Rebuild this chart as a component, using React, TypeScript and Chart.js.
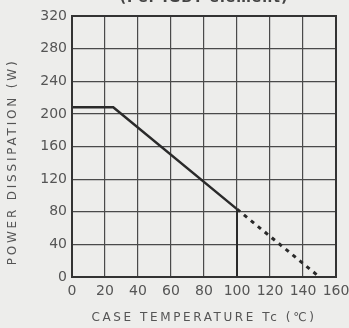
import React, { useEffect, useRef } from "react";
import { Chart, registerables } from "chart.js";

Chart.register(...registerables);

const chartTitle = "(Per IGBT element)";
const xAxisTitle = "CASE TEMPERATURE Tc (\u2103)";
const yAxisTitle = "POWER DISSIPATION (W)";

const ratedTemps = [0, 25, 100];
const ratedPower = [208, 208, 83.2];
const deratedTemps = [100, 150];
const deratedPower = [83.2, 0];
const limitTemps = [100, 100];
const limitPower = [0, 83.2];

const xMin = 0, xMax = 160, xStep = 20;
const yMin = 0, yMax = 320, yStep = 40;

const toPoints = (xs: number[], ys: number[]) => xs.map((x, i) => ({ x, y: ys[i] }));

const decor = {
  id: "decor",
  beforeDraw(chart: any) {
    const ctx = chart.ctx;
    ctx.save();
    ctx.fillStyle = "#ededeb";
    ctx.fillRect(0, 0, chart.width, chart.height);
    ctx.restore();
  },
  afterDatasetsDraw(chart: any) {
    const { ctx, chartArea: a } = chart;
    ctx.save();
    ctx.strokeStyle = "#333";
    ctx.lineWidth = 2;
    ctx.strokeRect(a.left, a.top, a.right - a.left, a.bottom - a.top);
    ctx.fillStyle = "#444";
    ctx.textAlign = "center";
    ctx.textBaseline = "middle";
    ctx.font = "bold 14px 'DejaVu Sans'";
    (ctx as any).letterSpacing = "1px";
    ctx.fillText(chartTitle, (a.left + a.right) / 2, -2);
    ctx.fillStyle = "#555";
    ctx.font = "12px 'DejaVu Sans'";
    (ctx as any).letterSpacing = "2.6px";
    ctx.fillText(xAxisTitle, 204, 318);
    ctx.translate(13, 162);
    ctx.rotate(-Math.PI / 2);
    (ctx as any).letterSpacing = "2.8px";
    ctx.fillText(yAxisTitle, 0, 0);
    ctx.restore();
  },
};

export default function App() {
  const ref = useRef<HTMLCanvasElement | null>(null);
  useEffect(() => {
    if (!ref.current) return;
    const chart = new Chart(ref.current, {
      type: "scatter",
      data: {
        datasets: [
          {
            data: toPoints(ratedTemps, ratedPower),
            showLine: true,
            borderColor: "#2a2a2a",
            borderWidth: 2.5,
            pointRadius: 0,
          },
          {
            data: toPoints(deratedTemps, deratedPower),
            showLine: true,
            borderColor: "#2a2a2a",
            borderWidth: 3,
            borderDash: [4, 5],
            pointRadius: 0,
          },
          {
            data: toPoints(limitTemps, limitPower),
            showLine: true,
            borderColor: "#2a2a2a",
            borderWidth: 2,
            pointRadius: 0,
          },
        ],
      },
      options: {
        responsive: false,
        animation: false,
        layout: { padding: { top: 16, right: 0, left: 0, bottom: 0 } },
        plugins: { legend: { display: false }, tooltip: { enabled: false } },
        scales: {
          x: {
            type: "linear",
            min: xMin,
            max: xMax,
            ticks: {
              stepSize: xStep,
              color: "#555",
              padding: 6,
              maxRotation: 0,
              autoSkip: false,
              font: { family: "'DejaVu Sans'", size: 14 },
            },
            grid: { color: "#4a4a4a", lineWidth: 1.2, drawTicks: false },
            border: { display: false },
            afterFit: (s: any) => {
              s.height = 51;
              s.paddingRight = 13;
              s.paddingLeft = 0;
            },
          },
          y: {
            type: "linear",
            min: yMin,
            max: yMax,
            ticks: {
              stepSize: yStep,
              color: "#555",
              padding: 5,
              font: { family: "'DejaVu Sans'", size: 14 },
            },
            grid: { color: "#4a4a4a", lineWidth: 1.2, drawTicks: false },
            border: { display: false },
            afterFit: (s: any) => { s.width = 72; },
          },
        },
      },
      plugins: [decor],
    });
    return () => chart.destroy();
  }, []);
  return (
    <canvas
      ref={ref}
      width={349}
      height={328}
      style={{ position: "fixed", left: 0, top: 0, display: "block" }}
    />
  );
}
